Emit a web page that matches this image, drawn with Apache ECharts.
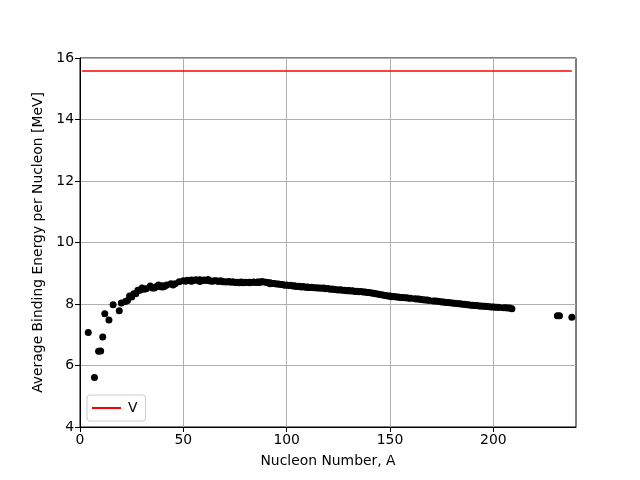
<!DOCTYPE html>
<html>
<head>
<meta charset="utf-8">
<script src="https://cdn.jsdelivr.net/npm/echarts@6/dist/echarts.min.js"></script>
<style>html,body{margin:0;padding:0;background:#fff;}#c{width:640px;height:480px;}</style>
</head>
<body>
<div id="c"></div>
<script>
var massNumbers = [4,7,9,10,11,12,14,16,19,20,22,23,24,25,26,27,28,29,30,31,32,34,35,37,36,38,40,39,41,40,42,44,45,46,48,50,51,52,53,54,55,54,56,57,58,59,58,60,61,62,63,65,64,66,67,68,69,71,70,72,73,74,75,76,77,78,80,82,79,81,82,83,84,86,85,87,86,87,88,89,90,91,92,94,93,92,95,96,97,98,99,100,101,102,103,104,104,105,106,108,110,107,109,110,111,112,113,114,115,116,117,118,119,120,121,122,123,124,125,126,128,130,127,129,130,131,132,134,133,135,136,137,138,139,140,141,142,143,144,145,146,147,148,149,150,150,152,154,151,153,155,156,157,158,160,159,162,163,164,165,166,167,168,169,171,172,173,174,176,175,177,178,179,180,181,182,183,184,186,185,187,188,189,190,192,191,193,194,195,196,198,197,199,200,201,202,203,205,206,207,208,209,231,232,238];
var bindingEnergies = [7.074,5.606,6.463,6.475,6.928,7.680,7.476,7.976,7.779,8.032,8.080,8.112,8.261,8.224,8.334,8.332,8.448,8.449,8.521,8.481,8.493,8.584,8.520,8.570,8.520,8.614,8.595,8.557,8.576,8.551,8.617,8.658,8.619,8.656,8.723,8.756,8.742,8.776,8.760,8.778,8.765,8.736,8.790,8.770,8.792,8.768,8.732,8.781,8.765,8.795,8.752,8.757,8.736,8.760,8.734,8.756,8.724,8.718,8.722,8.732,8.705,8.725,8.701,8.711,8.695,8.718,8.711,8.693,8.688,8.696,8.711,8.696,8.717,8.712,8.697,8.711,8.708,8.705,8.733,8.714,8.710,8.693,8.693,8.667,8.664,8.658,8.649,8.654,8.635,8.635,8.609,8.619,8.601,8.607,8.584,8.587,8.585,8.571,8.580,8.567,8.547,8.554,8.548,8.551,8.537,8.545,8.527,8.532,8.517,8.523,8.510,8.517,8.499,8.505,8.482,8.488,8.472,8.467,8.458,8.463,8.449,8.430,8.445,8.431,8.438,8.424,8.428,8.414,8.410,8.397,8.403,8.392,8.393,8.378,8.376,8.354,8.346,8.330,8.327,8.309,8.304,8.281,8.280,8.263,8.262,8.250,8.244,8.227,8.239,8.229,8.213,8.215,8.204,8.202,8.183,8.189,8.173,8.162,8.159,8.147,8.142,8.132,8.130,8.115,8.098,8.097,8.088,8.084,8.064,8.069,8.052,8.052,8.039,8.035,8.023,8.018,8.008,8.005,7.989,7.991,7.978,7.973,7.963,7.963,7.948,7.948,7.938,7.936,7.927,7.927,7.914,7.916,7.905,7.906,7.898,7.897,7.886,7.878,7.875,7.870,7.868,7.848,7.618,7.615,7.570];
var volumeA = [1, 238];
var volumeTerm = [15.58, 15.58];
var xTicks = [0, 50, 100, 150, 200];
var yTicks = [4, 6, 8, 10, 12, 14, 16];

var scatterData = massNumbers.map(function(a, i){ return [a, bindingEnergies[i]]; });
var lineData = volumeA.map(function(a, i){ return [a, volumeTerm[i]]; });
var font = 'DejaVu Sans';
var fs = 13.9;

var chart = echarts.init(document.getElementById('c'), null, {renderer: 'canvas'});
chart.setOption({
  animation: false,
  backgroundColor: '#ffffff',
  textStyle: {fontFamily: font},
  grid: {left: 80, right: 64, top: 58, bottom: 53, show: true, borderColor: '#000', borderWidth: 1, backgroundColor: 'transparent'},
  legend: {
    data: [{name: 'V', icon: 'rect'}],
    left: 87, top: 395,
    itemWidth: 29, itemHeight: 2,
    padding: [6, 8, 6, 5],
    itemGap: 8,
    borderColor: '#cccccc', borderWidth: 1, borderRadius: 3,
    backgroundColor: 'rgba(255,255,255,0.8)',
    textStyle: {fontFamily: font, fontSize: fs, color: '#000', padding: [0,0,0,2]}
  },
  xAxis: {
    type: 'value', min: 0, max: 240, interval: 50,
    name: 'Nucleon Number, A', nameLocation: 'middle', nameGap: 27,
    nameTextStyle: {fontFamily: font, fontSize: fs, color: '#000'},
    axisLine: {show: true, lineStyle: {color: '#000', width: 1}},
    axisTick: {show: true, inside: false, length: 5, lineStyle: {color: '#000'}, customValues: xTicks},
    axisLabel: {fontFamily: font, fontSize: fs, color: '#000', margin: 6, customValues: xTicks,
      formatter: function(v){ return xTicks.indexOf(v) >= 0 ? String(v) : ''; }},
    splitLine: {show: true, lineStyle: {color: '#b0b0b0', width: 1}}
  },
  yAxis: {
    type: 'value', min: 4, max: 16, interval: 2,
    name: 'Average Binding Energy per Nucleon [MeV]', nameLocation: 'middle', nameGap: 32,
    nameTextStyle: {fontFamily: font, fontSize: fs, color: '#000'},
    axisLine: {show: true, lineStyle: {color: '#000', width: 1}},
    axisTick: {show: true, inside: false, length: 5, lineStyle: {color: '#000'}},
    axisLabel: {fontFamily: font, fontSize: fs, color: '#000', margin: 6,
      formatter: function(v){ return yTicks.indexOf(v) >= 0 ? String(v) : ''; }},
    splitLine: {show: true, lineStyle: {color: '#b0b0b0', width: 1}}
  },
  series: [
    {
      name: 'data', type: 'scatter', data: scatterData,
      symbol: 'circle', symbolSize: 7,
      itemStyle: {color: '#000000', opacity: 1}, z: 3, clip: true
    },
    {
      name: 'V', type: 'line', data: lineData,
      symbol: 'none', lineStyle: {color: '#ff0000', width: 1.5},
      itemStyle: {color: '#ff0000'}, z: 4
    }
  ]
});
</script>
</body>
</html>
